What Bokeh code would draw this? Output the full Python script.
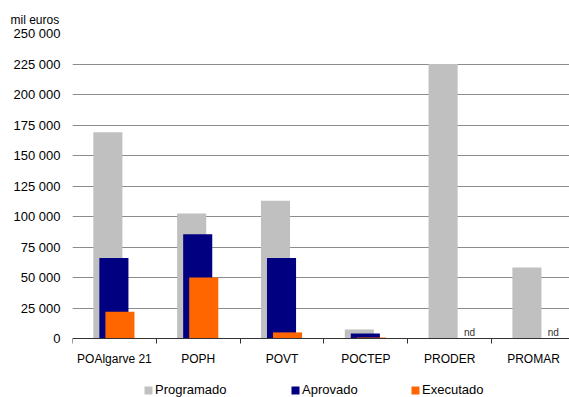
from bokeh.plotting import figure
from bokeh.models import Range1d, FixedTicker, Legend, LegendItem, Title, ColumnDataSource
from bokeh.core.properties import value
from bokeh.embed import file_html
from bokeh.resources import INLINE

categories = ["POAlgarve 21", "POPH", "POVT", "POCTEP", "PRODER", "PROMAR"]
programado = [169000, 102500, 113000, 7400, 225000, 58200]
aprovado = [66000, 85500, 66000, 4100, 0, 0]
executado = [22000, 50000, 5000, 800, 0, 0]
nd_categories = ["PRODER", "PROMAR"]
y_ticks = [0, 25000, 50000, 75000, 100000, 125000, 150000, 175000, 200000, 225000, 250000]
y_tick_labels = ["0", "25 000", "50 000", "75 000", "100 000", "125 000", "150 000",
                 "175 000", "200 000", "225 000", "250 000"]
unit_label = "mil euros"
series_names = ["Programado", "Aprovado", "Executado"]
colors = ["#C0C0C0", "#000080", "#FF6600"]

FONT = "Liberation Sans"

# frame spans down to the bottom of the canvas so the legend can sit under the axis
p = figure(width=569, height=397, output_backend="svg", toolbar_location=None,
           x_range=Range1d(0, 5.93), y_range=Range1d(-48360, 250000),
           min_border_left=72, min_border_right=0, min_border_top=33, min_border_bottom=0)
p.outline_line_color = None
p.background_fill_color = "white"
p.border_fill_color = "white"

offsets = [-0.078, -0.006, 0.066]
bar_w = 0.347
centers = [i + 0.5 for i in range(len(categories))]
renderers = []
for vals, off, col in zip([programado, aprovado, executado], offsets, colors):
    src = ColumnDataSource(dict(x=[c + off for c in centers], top=vals))
    r = p.vbar(x="x", top="top", width=bar_w, bottom=0, source=src,
               fill_color=col, line_color=None)
    renderers.append(r)

nd_x = [centers[categories.index(c)] + 0.17 for c in nd_categories]
p.text(x=nd_x, y=[0] * len(nd_x), text=["nd"] * len(nd_x), text_font=value(FONT),
       text_font_size="10px", text_color="#333333", text_baseline="bottom",
       y_offset=-1)

# y axis
p.yaxis.ticker = FixedTicker(ticks=y_ticks)
p.yaxis.major_label_overrides = {t: l for t, l in zip(y_ticks, y_tick_labels)}
p.yaxis.axis_line_color = None
p.yaxis.major_tick_line_color = None
p.yaxis.major_tick_out = 6
p.yaxis.minor_tick_line_color = None
p.yaxis.major_label_standoff = 6
p.yaxis.major_label_text_font = FONT
p.yaxis.major_label_text_font_size = "13px"
p.yaxis.major_label_text_color = "#000000"

# x axis, drawn at y = 0
p.xaxis.fixed_location = 0
p.xaxis.ticker = FixedTicker(ticks=centers, minor_ticks=list(range(len(categories) + 1)))
p.xaxis.major_label_overrides = {c: n for c, n in zip(centers, categories)}
p.xaxis.major_tick_line_color = None
p.xaxis.major_tick_out = 6
p.xaxis.minor_tick_out = 5
p.xaxis.minor_tick_in = 0
p.xaxis.minor_tick_line_color = "#333333"
p.xaxis.axis_line_color = "#333333"
p.xaxis.major_label_standoff = 7
p.xaxis.major_label_text_font = FONT
p.xaxis.major_label_text_font_size = "12px"
p.xaxis.major_label_text_color = "#000000"

p.xgrid.grid_line_color = None
p.ygrid.ticker = FixedTicker(ticks=y_ticks[1:])
p.ygrid.grid_line_color = "#8c8c8c"
p.ygrid.grid_line_width = 1

p.add_layout(Title(text=unit_label, align="left", offset=-62, standoff=14,
                   text_font=FONT, text_font_size="12px", text_font_style="normal",
                   text_color="#000000"), "above")

# one legend per entry so each sits where the reference puts it
legend_x = [71, 218, 338]
for name, r, lx in zip(series_names, renderers, legend_x):
    lg = Legend(items=[LegendItem(label=name, renderers=[r])],
                orientation="horizontal", location=(lx, 0),
                glyph_width=10, glyph_height=10, label_standoff=2,
                padding=0, margin=0, border_line_color=None, background_fill_alpha=0,
                label_text_font=FONT, label_text_font_size="13px", label_height=12,
                label_text_color="#000000")
    p.add_layout(lg)

open("out.html", "w").write(file_html(p, INLINE))
